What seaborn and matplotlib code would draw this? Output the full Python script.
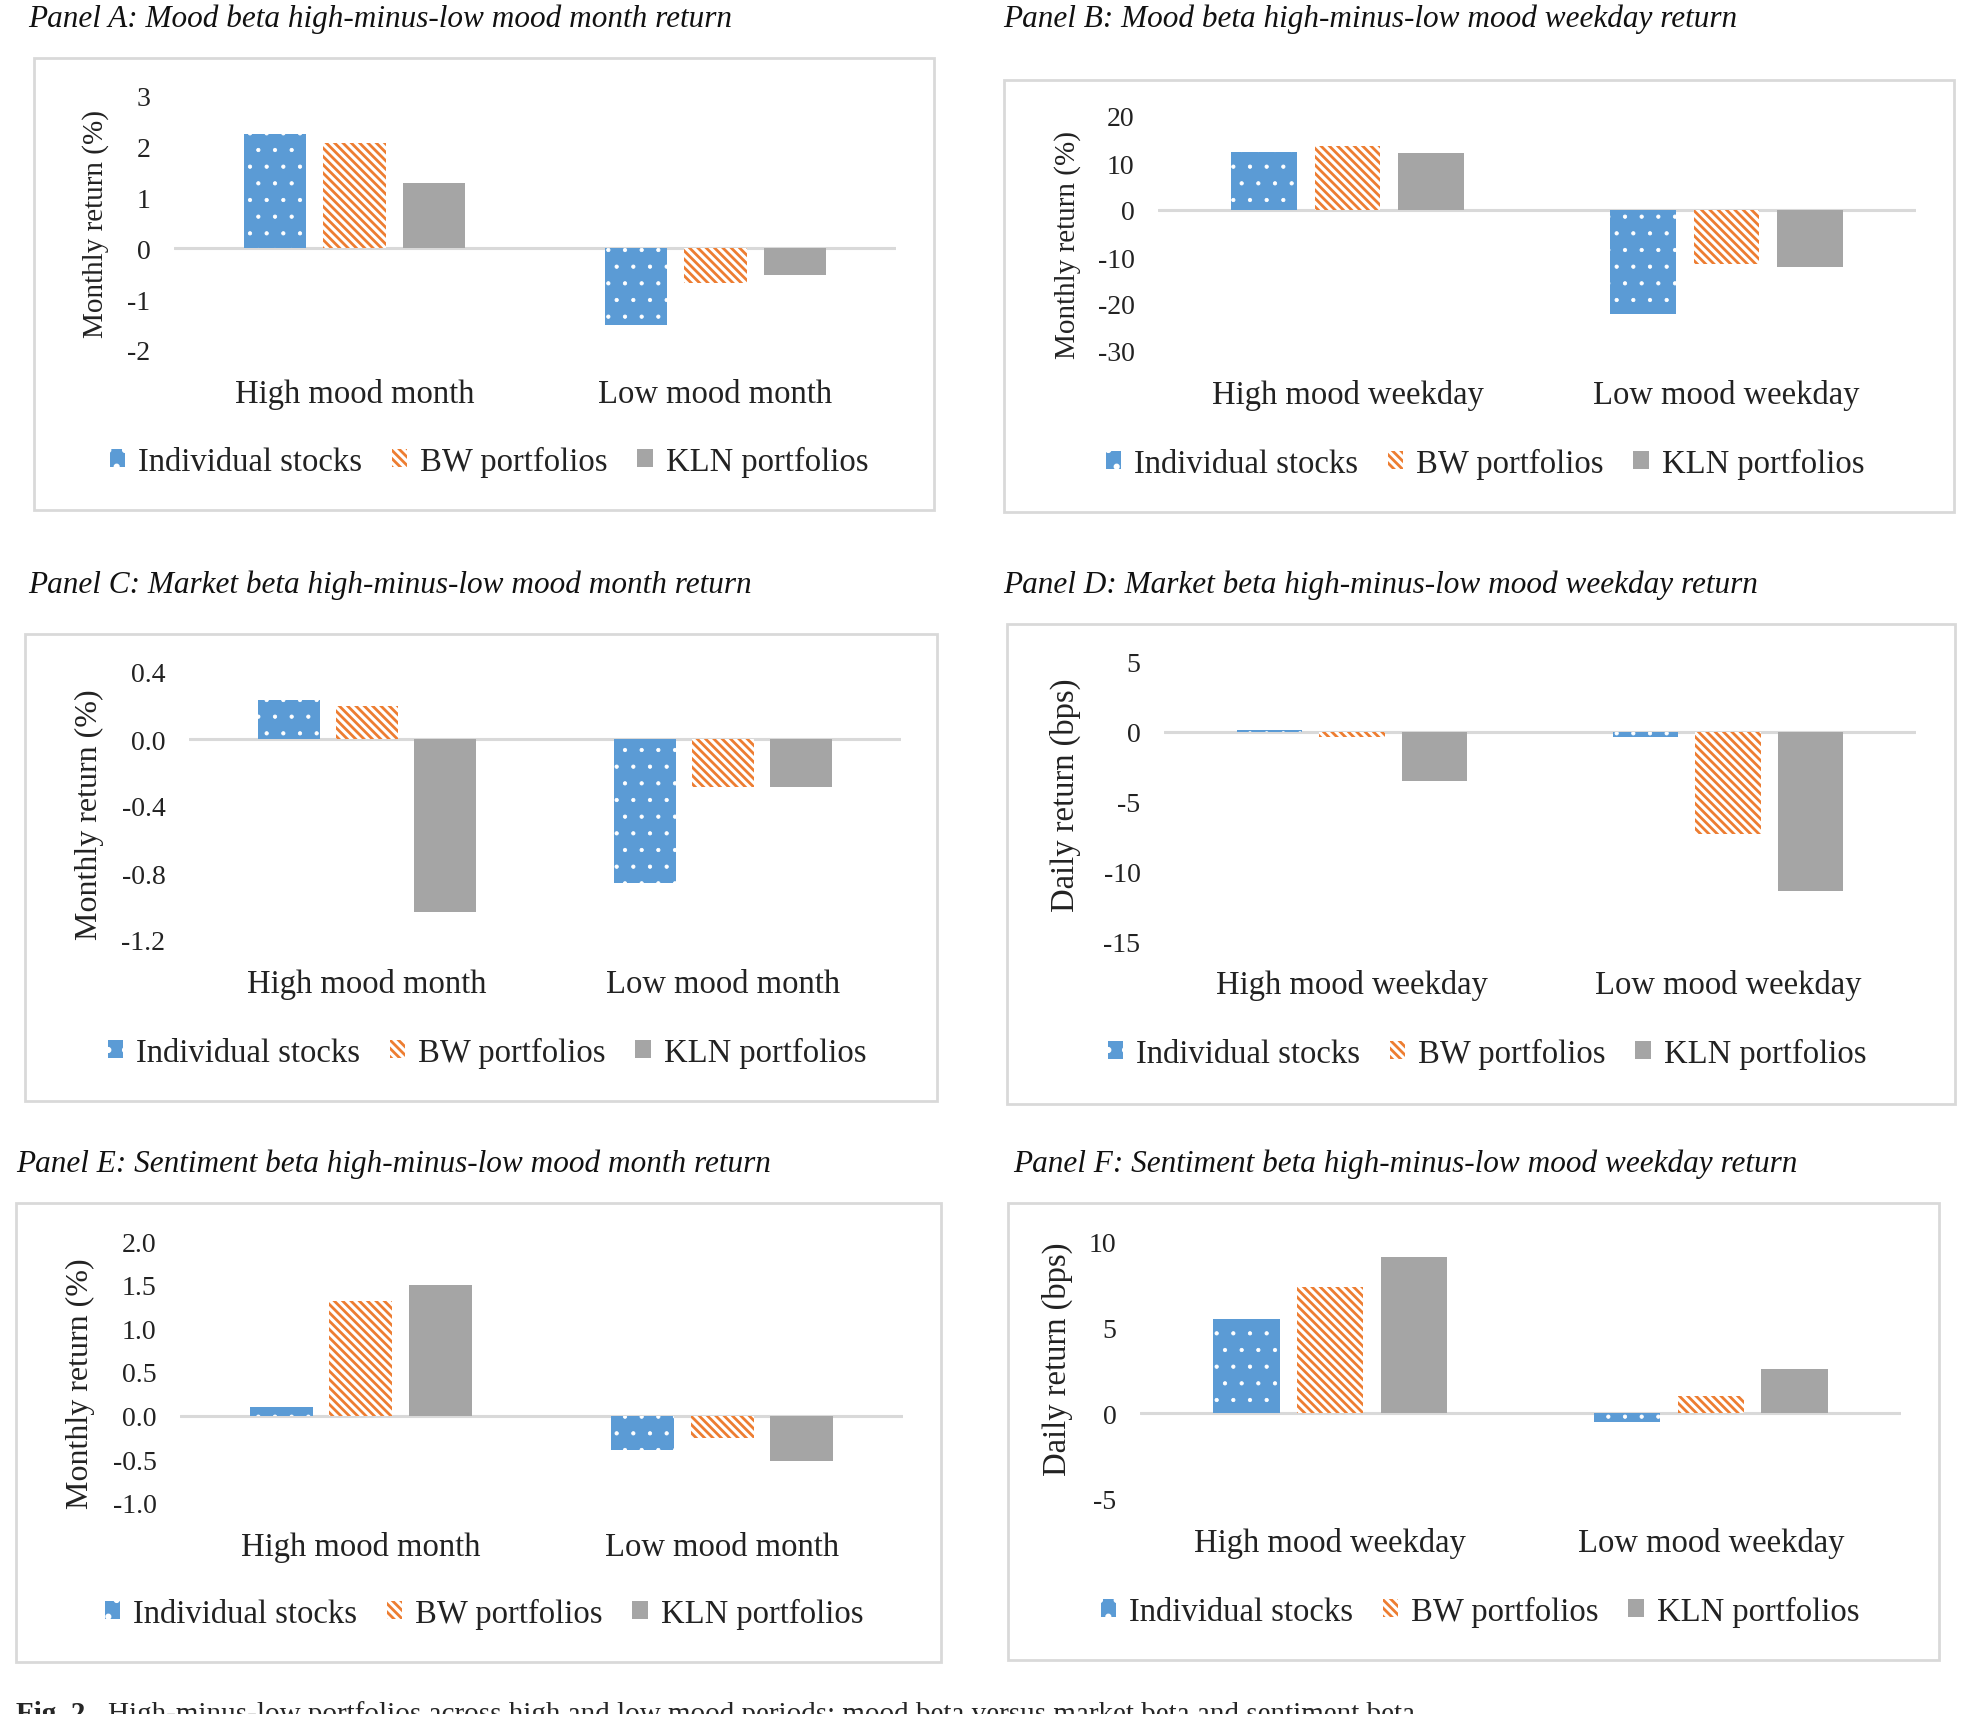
import numpy as np
import pandas as pd
import matplotlib
matplotlib.use('Agg')
import matplotlib.pyplot as plt
from matplotlib.patches import Rectangle, Patch
import seaborn as sns

# ---- data ----
series = ['Individual stocks', 'BW portfolios', 'KLN portfolios']
month_periods = ['High mood month', 'Low mood month']
weekday_periods = ['High mood weekday', 'Low mood weekday']

# [high mood, low mood] for each series
a_individual = [2.25, -1.51]
a_bw = [2.07, -0.68]
a_kln = [1.29, -0.52]

b_individual = [12.3, -22.2]
b_bw = [13.7, -11.4]
b_kln = [12.1, -12.1]

c_individual = [0.23, -0.86]
c_bw = [0.195, -0.285]
c_kln = [-1.03, -0.285]

d_individual = [0.1, -0.35]
d_bw = [-0.35, -7.3]
d_kln = [-3.5, -11.4]

e_individual = [0.10, -0.39]
e_bw = [1.31, -0.26]
e_kln = [1.50, -0.52]

f_individual = [5.5, -0.5]
f_bw = [7.4, 1.0]
f_kln = [9.1, 2.6]

ticks_a = [-2, -1, 0, 1, 2, 3]
ticklabels_a = ['-2', '-1', '0', '1', '2', '3']
ticks_b = [-30, -20, -10, 0, 10, 20]
ticklabels_b = ['-30', '-20', '-10', '0', '10', '20']
ticks_c = [-1.2, -0.8, -0.4, 0.0, 0.4]
ticklabels_c = ['-1.2', '-0.8', '-0.4', '0.0', '0.4']
ticks_d = [-15, -10, -5, 0, 5]
ticklabels_d = ['-15', '-10', '-5', '0', '5']
ticks_e = [-1.0, -0.5, 0.0, 0.5, 1.0, 1.5, 2.0]
ticklabels_e = ['-1.0', '-0.5', '0.0', '0.5', '1.0', '1.5', '2.0']
ticks_f = [-5, 0, 5, 10]
ticklabels_f = ['-5', '0', '5', '10']

titles = [
    'Panel A: Mood beta high-minus-low mood month return',
    'Panel B: Mood beta high-minus-low mood weekday return',
    'Panel C: Market beta high-minus-low mood month return',
    'Panel D: Market beta high-minus-low mood weekday return',
    'Panel E: Sentiment beta high-minus-low mood month return',
    'Panel F: Sentiment beta high-minus-low mood weekday return',
]

# ---- style ----
sns.set_theme(style='white')
plt.rcParams['font.family'] = ['Liberation Serif', 'DejaVu Serif']
plt.rcParams['axes.unicode_minus'] = False
plt.rcParams['hatch.linewidth'] = 2.0

BLUE = '#5b9bd5'
ORANGE = '#ed7d31'
GRAY = '#a5a5a5'
FRAME = '#d9d9d9'

W, H = 1973, 1715
fig = plt.figure(figsize=(W / 100, H / 100), dpi=100)
fig.patch.set_facecolor('white')


def style_bar(bar, k):
    bar.set_linewidth(0)
    if k == 0:
        bar.set_facecolor(BLUE)
        bar.set_edgecolor('white')
        bar.set_hatch('.')
        if hasattr(bar, 'set_hatch_linewidth'):
            bar.set_hatch_linewidth(0.6)
    elif k == 1:
        bar.set_facecolor('white')
        bar.set_edgecolor(ORANGE)
        bar.set_hatch('\\\\\\\\')
    else:
        bar.set_facecolor(GRAY)
        bar.set_edgecolor(GRAY)


def panel(ax_px, box_px, title_px, ylab_px, leg_px, title, periods, ind, bw, kln,
          ylim, ticks, ticklabels, ylabel, ylabel_size):
    l, r, t, b = ax_px
    ax = fig.add_axes([l / W, 1 - b / H, (r - l) / W, (b - t) / H])
    df = pd.DataFrame({
        'period': periods * 3,
        'series': np.repeat(series, 2),
        'value': ind + bw + kln,
    })
    ax.axhline(0, color=FRAME, lw=2.2, zorder=0.5)
    sns.barplot(data=df, x='period', y='value', hue='series', hue_order=series,
                order=periods, palette=[BLUE, ORANGE, GRAY], saturation=1,
                width=0.66, gap=0.21, errorbar=None, legend=False, ax=ax, zorder=2)
    for k, cont in enumerate(ax.containers):
        for bar in cont:
            style_bar(bar, k)
    ax.set_xlim(-0.5, 1.5)
    ax.set_ylim(*ylim)
    ax.set_yticks(ticks)
    ax.set_yticklabels(ticklabels)
    for s in ax.spines.values():
        s.set_visible(False)
    ax.tick_params(axis='y', length=0, pad=17, labelsize=20, colors='#222222')
    ax.tick_params(axis='x', length=0, pad=20.5, labelsize=23.5, colors='#222222')
    ax.set_xlabel('')
    ax.set_ylabel(ylabel, fontsize=ylabel_size, va='center', color='#222222')
    ax.yaxis.set_label_coords((ylab_px[0] - l) / (r - l), (b - ylab_px[1]) / (b - t))
    ax.patch.set_alpha(0)

    bl, br, bt, bb = box_px
    fig.add_artist(Rectangle((bl / W, 1 - bb / H), (br - bl) / W, (bb - bt) / H,
                             transform=fig.transFigure, fill=False,
                             edgecolor=FRAME, lw=2, zorder=0))
    fig.text(title_px[0] / W, 1 - title_px[1] / H, title, fontsize=22.5,
             style='italic', ha='left', va='center', color='#111111')

    handles = []
    for k in range(3):
        p = Patch(label=series[k])
        style_bar(p, k)
        handles.append(p)
    fig.legend(handles=handles, loc='center', ncol=3, frameon=False,
               bbox_to_anchor=(leg_px[0] / W, 1 - leg_px[1] / H),
               handlelength=0.48, handleheight=0.5, handletextpad=0.4,
               columnspacing=0.9, prop={'size': 23.5}, labelcolor='#222222')
    return ax


panel((174, 896, 97, 351), (34, 934, 59, 511), (28, 19), (96, 224), (489, 462),
      titles[0], month_periods, a_individual, a_bw, a_kln,
      (-2, 3), ticks_a, ticklabels_a, 'Monthly return (%)', 21)
panel((1158, 1916, 117, 352), (1004, 1954, 81, 513), (1003, 19), (1068, 245), (1485, 464),
      titles[1], weekday_periods, b_individual, b_bw, b_kln,
      (-30, 20), ticks_b, ticklabels_b, 'Monthly return (%)', 21)
panel((189, 901, 673, 941), (25, 937, 635, 1102), (28, 585), (89, 815), (487, 1053),
      titles[2], month_periods, c_individual, c_bw, c_kln,
      (-1.2, 0.4), ticks_c, ticklabels_c, 'Monthly return (%)', 23)
panel((1164, 1916, 663, 942), (1007, 1955, 625, 1105), (1003, 585), (1065, 795), (1487, 1054),
      titles[3], weekday_periods, d_individual, d_bw, d_kln,
      (-15, 5), ticks_d, ticklabels_d, 'Daily return (bps)', 23.5)
panel((180, 903, 1242, 1504), (16, 941, 1204, 1663), (16, 1164), (80, 1384), (484, 1614),
      titles[4], month_periods, e_individual, e_bw, e_kln,
      (-1.0, 2.0), ticks_e, ticklabels_e, 'Monthly return (%)', 23)
panel((1140, 1901, 1243, 1500), (1008, 1939, 1204, 1661), (1013, 1164), (1057, 1359), (1480, 1612),
      titles[5], weekday_periods, f_individual, f_bw, f_kln,
      (-5, 10), ticks_f, ticklabels_f, 'Daily return (bps)', 23.5)

# figure caption, cut off by the bottom edge as in the page scan
fig.text(16 / W, 1 - 1701 / H, 'Fig. 2.', fontsize=21, fontweight='bold',
         ha='left', va='top')
fig.text(108 / W, 1 - 1701 / H,
         'High-minus-low portfolios across high and low mood periods: '
         'mood beta versus market beta and sentiment beta.',
         fontsize=21, ha='left', va='top')

fig.savefig('out.png', dpi=100, facecolor='white')
